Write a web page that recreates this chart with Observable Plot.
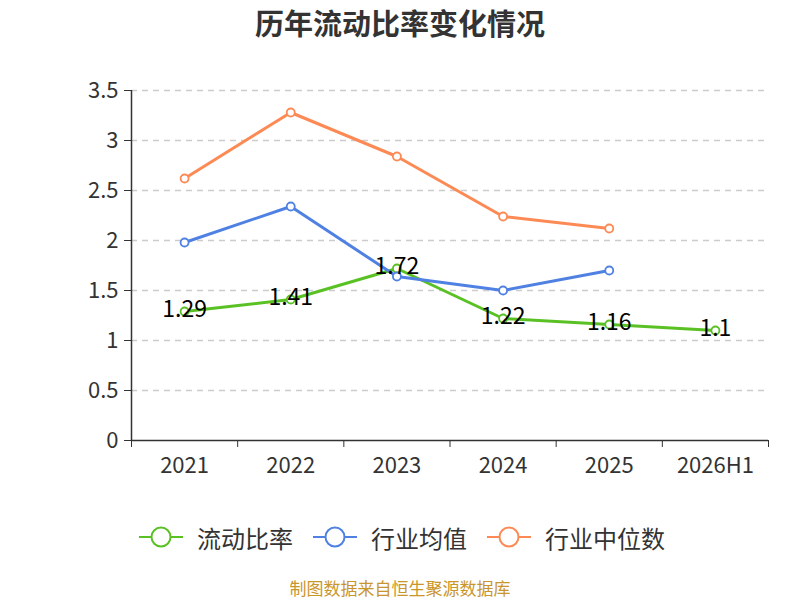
<!DOCTYPE html>
<html><head><meta charset="utf-8">
<script src="https://cdn.jsdelivr.net/npm/d3@7"></script>
<script src="https://cdn.jsdelivr.net/npm/@observablehq/plot@0.6"></script>
<style>
body{margin:0;background:#fff;font-family:"Noto Sans CJK SC","Noto Sans",sans-serif;position:relative;width:800px;height:600px}
#title{position:absolute;left:0;top:0;width:800px;height:44px;line-height:44px;text-align:center;font-size:29px;font-weight:bold;color:#333;}
#chart{position:absolute;left:0;top:45px}
#legend{position:absolute;left:0;top:517px;width:800px;height:40px;display:flex;justify-content:center;align-items:center;gap:20px;font-size:24px;color:#333;padding-left:2px}
#legend .it{display:flex;align-items:center;gap:14px}
#caption{position:absolute;left:0;top:577px;width:800px;line-height:22px;text-align:center;font-size:17px;color:#c9962b;}
</style></head>
<body>
<div id="title">历年流动比率变化情况</div>
<div id="chart"></div>
<div id="legend"></div>
<div id="caption">制图数据来自恒生聚源数据库</div>
<script>
const categories = ["2021","2022","2023","2024","2025","2026H1"];
const currentRatio = [1.29,1.41,1.72,1.22,1.16,1.1];
const industryMean = [1.98,2.34,1.64,1.50,1.70];
const industryMedian = [2.62,3.28,2.84,2.24,2.12];
const seriesNames = ["流动比率","行业均值","行业中位数"];
const colors = ["#5ac124","#4f81e3","#fd8a55"];
const yTicks = [0,0.5,1,1.5,2,2.5,3,3.5];

const rows = [];
[currentRatio, industryMean, industryMedian].forEach((vals, s) => {
  vals.forEach((v, i) => rows.push({series: seriesNames[s], i, cat: categories[i], v}));
});
const green = rows.filter(d => d.series === seriesNames[0]);
const bounds = d3.range(categories.length + 1).map(k => k - 0.5);

const plot = Plot.plot({
  width: 800, height: 440,
  marginTop: 45, marginBottom: 45, marginLeft: 131, marginRight: 32,
  style: {fontFamily: '"Noto Sans CJK SC","Noto Sans",sans-serif', fontSize: "22px", color: "#333", overflow: "visible"},
  x: {type: "linear", domain: [-0.5, categories.length - 0.5], axis: null},
  y: {domain: [0, 3.5], axis: null},
  color: {domain: seriesNames, range: colors},
  marks: [
    Plot.ruleY(yTicks.filter(t => t > 0), {stroke: "#ccc", strokeWidth: 1.5, strokeDasharray: "6,5"}),
    Plot.axisY({ticks: yTicks, tickSize: 7, tickPadding: 6, fontSize: 22, fill: "#333", stroke: "#333", label: null, tickFormat: d => String(d)}),
    Plot.ruleX([-0.5], {y1: 0, y2: 3.5, stroke: "#333", strokeWidth: 1.5}),
    Plot.ruleY([0], {stroke: "#333", strokeWidth: 1.5}),
    Plot.axisX({ticks: bounds, tickSize: 7, tickFormat: () => "", stroke: "#333", label: null}),
    Plot.axisX({ticks: d3.range(categories.length), tickSize: 0, tickPadding: 17, tickFormat: i => categories[i], fontSize: 22, fill: "#333", label: null}),
    Plot.line(rows, {x: "i", y: "v", z: "series", stroke: "series", strokeWidth: 3}),
    Plot.dot(rows, {x: "i", y: "v", stroke: "series", fill: "white", r: 4, strokeWidth: 1.8}),
    Plot.text(green, {x: "i", y: "v", text: d => String(d.v), dy: -2, fontSize: 23, fill: "#000"})
  ]
});
document.getElementById("chart").appendChild(plot);

const leg = document.getElementById("legend");
seriesNames.forEach((n, k) => {
  const it = document.createElement("div");
  it.className = "it";
  it.innerHTML = `<svg width="44" height="24"><line x1="0" y1="12" x2="44" y2="12" stroke="${colors[k]}" stroke-width="2"/><circle cx="22" cy="12" r="9.5" fill="white" stroke="${colors[k]}" stroke-width="2"/></svg><span>${n}</span>`;
  leg.appendChild(it);
});
</script>
</body></html>
